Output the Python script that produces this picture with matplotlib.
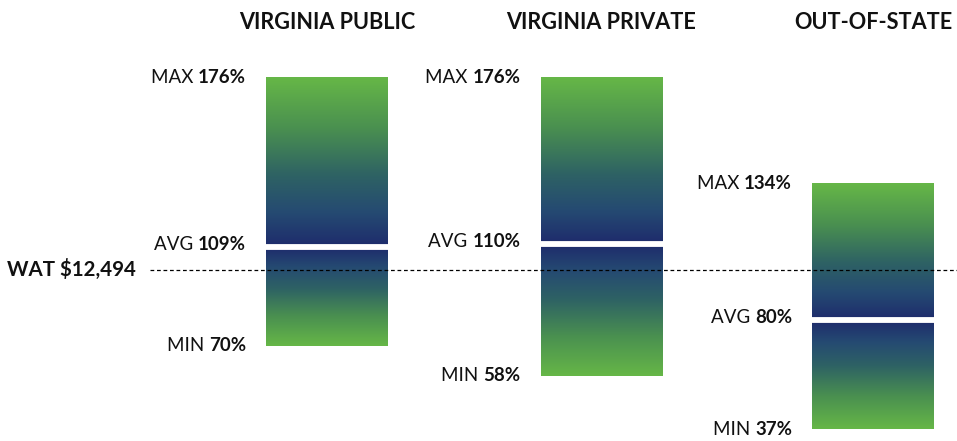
import matplotlib
matplotlib.use("Agg")
import matplotlib.pyplot as plt
import numpy as np
from matplotlib.colors import LinearSegmentedColormap

# ---- data ----
categories = ["VIRGINIA PUBLIC", "VIRGINIA PRIVATE", "OUT-OF-STATE"]
max_vals = [176, 176, 134]
avg_vals = [109, 110, 80]
min_vals = [70, 58, 37]
wat_value = 100
wat_label = "WAT $12,494"

# ---- style / layout ----
FONT = "Lato"
plt.rcParams["font.family"] = [FONT, "DejaVu Sans"]
W, H = 957, 441
fig = plt.figure(figsize=(W / 100, H / 100), dpi=100)
ax = fig.add_axes([0, 0, 1, 1])
ax.set_xlim(0, W)
ax.set_ylim(32.3, 206.6)
ax.axis("off")

centers = [327, 601.5, 873]
bar_w = 122
cmap = LinearSegmentedColormap.from_list(
    "gn", [(0.0, "#66b747"), (0.3, "#4a9050"), (0.58, "#2e6264"),
           (0.8, "#254a72"), (1.0, "#1e2b6c")])
grad = np.linspace(0, 1, 256).reshape(-1, 1)

for c, mx, av, mn in zip(centers, max_vals, avg_vals, min_vals):
    x0, x1 = c - bar_w / 2, c + bar_w / 2
    ax.imshow(grad[::-1], cmap=cmap, extent=(x0, x1, av, mx), origin="lower",
              aspect="auto", zorder=1, interpolation="bilinear")
    ax.imshow(grad, cmap=cmap, extent=(x0, x1, mn, av), origin="lower",
              aspect="auto", zorder=1, interpolation="bilinear")
    ax.hlines(av, x0 - 1, x1 + 1, color="white", lw=4.2, zorder=3)

# WAT dashed line
ax.hlines(wat_value, 150, W, colors="black", linestyles=(0, (3, 2.2)), lw=0.9, zorder=2)
ax.text(7, wat_value, wat_label, ha="left", va="center", fontsize=14.8,
        fontweight="bold", color="#111111")

# titles
for c, t in zip(centers, categories):
    ax.text(c, 206.6 - 22 / 2.53, t, ha="center", va="center", fontsize=15.6,
            fontweight="bold", color="#111111")

fig.canvas.draw()
renderer = fig.canvas.get_renderer()
inv = ax.transData.inverted()

def mixed_label(xr, y, prefix, value):
    t = ax.text(xr, y, value, ha="right", va="center", fontsize=13.5,
                fontweight="bold", color="#111111")
    bb = t.get_window_extent(renderer=renderer)
    xl = inv.transform((bb.x0, 0))[0]
    ax.text(xl, y, prefix + " ", ha="right", va="center", fontsize=13.5,
            color="#111111")

for c, mx, av, mn in zip(centers, max_vals, avg_vals, min_vals):
    xr = c - bar_w / 2 - 20
    mixed_label(xr, mx, "MAX", f"{mx}%")
    mixed_label(xr, av + 1, "AVG", f"{av}%")
    mixed_label(xr, mn, "MIN", f"{mn}%")

fig.savefig("out.png", dpi=100, facecolor="white")
